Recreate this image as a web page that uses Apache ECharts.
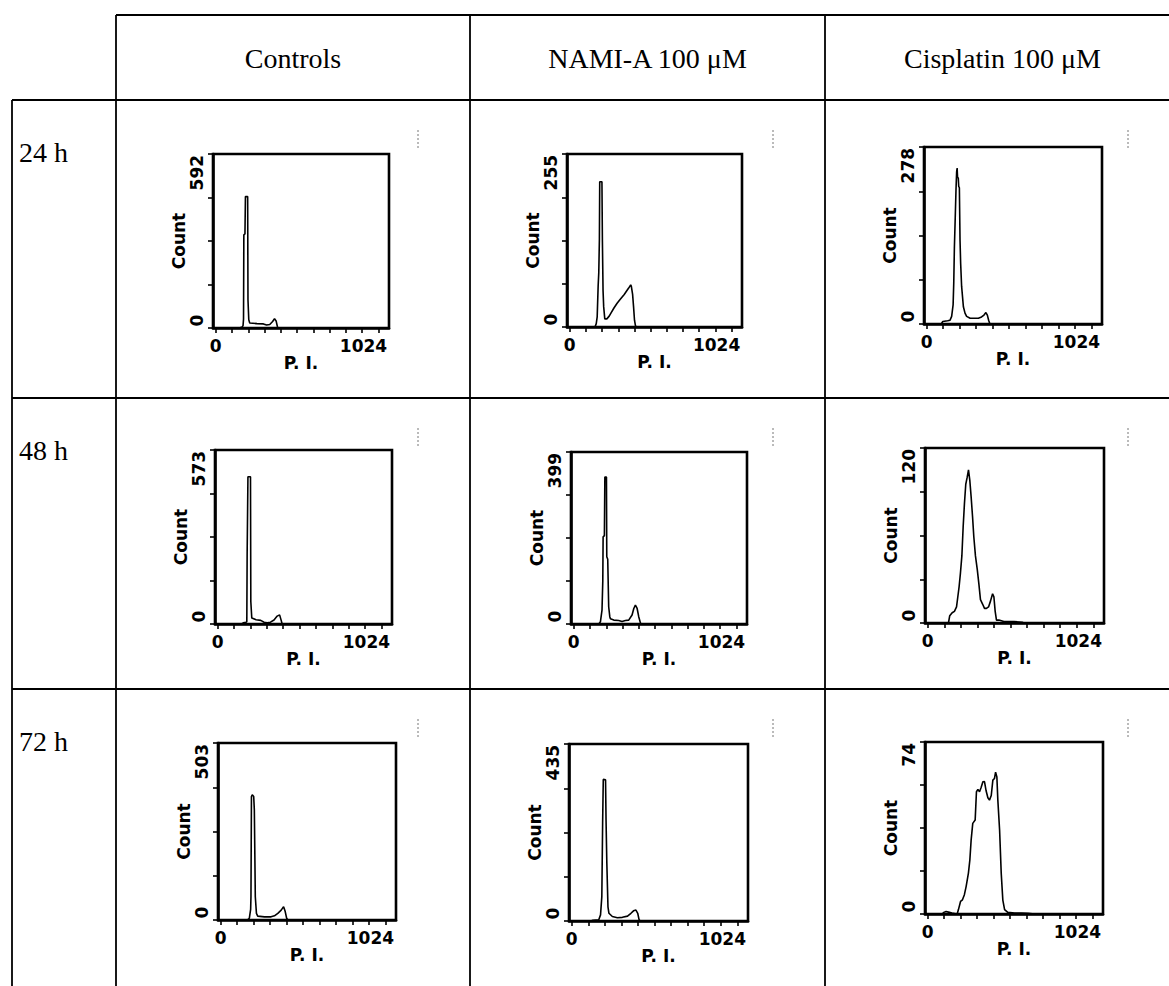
<!DOCTYPE html>
<html>
<head>
<meta charset="utf-8">
<script src="https://cdn.jsdelivr.net/npm/echarts@6/dist/echarts.min.js"></script>
<style>
  html, body { margin: 0; padding: 0; background: #fff; }
  #main { width: 1169px; height: 986px; }
</style>
</head>
<body>
<div id="main"></div>
<script>
// table headings
var columns = ['Controls', 'NAMI-A 100 μM', 'Cisplatin 100 μM'];
var rows = ['24 h', '48 h', '72 h'];

// top label of each Count axis (row by row)
var yMax = [592, 255, 278, 573, 399, 120, 503, 435, 74];

// P.I. channel ticks and labels
var xTicks = [0, 102.4, 204.8, 307.2, 409.6, 512, 614.4, 716.8, 819.2, 921.6, 1024];
var xLabels = [0, 1024];

// histograms: [P.I. channel, count]
var ctrl24 = [[0,0],[150,0],[166,3],[172,8],[175,30],[177,317],[184,320],[187,447],[201,447],[203,96],[208,28],[214,17],[260,15],[300,14],[320,10],[340,12],[358,22],[370,32],[380,24],[388,5],[392,0],[1024,0]];
var nami24 = [[0,0],[160,0],[168,5],[174,15],[180,60],[184,80],[188,130],[190,214],[204,214],[207,126],[211,54],[215,30],[222,12],[235,12],[250,16],[260,20],[280,28],[300,35],[320,41],[345,48],[360,53],[372,57],[386,62],[390,60],[398,48],[404,30],[410,10],[416,2],[422,0],[1024,0]];
var cis24 = [[0,0],[90,0],[100,4],[130,5],[145,6],[155,12],[164,30],[168,64],[172,120],[178,174],[182,211],[186,239],[189,245],[192,229],[196,230],[199,216],[203,214],[207,132],[211,95],[217,59],[228,27],[238,17],[248,12],[270,9],[300,9],[321,9],[341,11],[356,14],[368,18],[377,14],[385,6],[393,0],[1024,0]];

var ctrl48 = [[0,0],[150,0],[160,4],[178,6],[182,8],[184,227],[188,227],[189,485],[205,485],[207,74],[213,20],[240,14],[269,12],[290,6],[310,4],[330,6],[352,13],[372,26],[387,30],[397,12],[403,0],[1024,0]];
var nami48 = [[0,0],[158,0],[168,5],[178,32],[183,100],[185,202],[193,205],[196,341],[206,341],[208,156],[214,150],[220,40],[227,17],[231,12],[252,9],[283,8],[304,6],[325,8],[346,9],[367,21],[378,36],[388,44],[399,36],[409,17],[420,2],[426,0],[1024,0]];
var cis48 = [[0,0],[128,0],[136,5],[151,7],[165,8],[178,11],[186,18],[194,25],[202,34],[211,46],[219,66],[227,82],[235,95],[244,100],[252,105],[260,98],[268,87],[277,73],[285,59],[295,46],[306,37],[316,27],[326,16],[339,13],[351,10],[363,10],[376,11],[388,15],[401,20],[409,18],[417,8],[425,2],[440,2],[471,1],[533,1],[584,0.5],[595,0],[1024,0]];

var ctrl72 = [[0,0],[165,0],[178,5],[186,30],[188,66],[191,351],[196,356],[205,351],[209,313],[213,150],[215,66],[222,19],[230,11],[272,9],[313,9],[334,12],[355,19],[376,28],[391,38],[401,24],[410,5],[418,0],[1024,0]];
var nami72 = [[0,0],[120,0],[130,2],[167,3],[178,15],[186,60],[191,240],[195,348],[209,347],[212,250],[217,142],[224,35],[230,19],[251,11],[282,8],[313,9],[345,12],[366,19],[382,25],[397,27],[408,19],[416,4],[422,0],[1024,0]];
var cis72 = [[0,0],[90,0],[100,0.7],[114,1.1],[135,0.7],[150,0.4],[183,0],[191,1.9],[204,5.4],[216,6.1],[228,8.3],[239,11.9],[253,17.6],[262,23.3],[270,31.9],[280,39],[295,40.4],[303,52.6],[312,53.6],[322,52.6],[332,54.4],[343,56.9],[353,57],[363,53],[374,50],[384,49],[395,51],[405,57.6],[415,58.3],[422,61],[430,59],[436,49],[447,36],[457,17.6],[467,6],[478,1.9],[498,0.7],[540,0.4],[582,0.4],[623,0.3],[665,0],[1024,0]];

var histograms = [ctrl24, nami24, cis24, ctrl48, nami48, cis48, ctrl72, nami72, cis72];

// layout of the plot boxes: left, top, width, height
var boxes = [
  [213, 154, 176, 174], [567, 154, 175, 173], [924, 147, 178, 177],
  [215, 450, 177, 174], [571, 452, 176, 172], [925, 448, 179, 175],
  [218, 743, 178, 177], [569, 744, 179, 177], [925, 742, 178, 172]
];
var rowTops = [100, 398, 689];
var colCenters = [293, 647.5, 1002.5];
var colRights = [470, 825, 1180];

var chart = echarts.init(document.getElementById('main'), null, {renderer: 'svg'});

var plotFont = '"DejaVu Sans", sans-serif';
var serif = '"Liberation Serif", "Times New Roman", serif';
var plotText = {color: '#000', fontFamily: plotFont, fontWeight: 'bold', fontSize: 17};
var digitW = 11.8;

var grids = [], xAxes = [], yAxes = [], series = [];

boxes.forEach(function (b, i) {
    var top = yMax[i];
    var topW = String(top).length * digitW;

    grids.push({
        left: b[0], top: b[1], width: b[2], height: b[3],
        show: true, borderColor: '#000', borderWidth: 2.6
    });

    xAxes.push({
        gridIndex: i, type: 'value', min: -17, max: 1090,
        axisLine: {show: true, onZero: false, lineStyle: {color: '#000', width: 2.6}},
        axisTick: {show: true, length: 5, customValues: xTicks, lineStyle: {color: '#000', width: 1.6}},
        axisLabel: {
            customValues: xLabels, margin: 9,
            formatter: function (v) {
                return v === 0 ? '{lo|0}' : '{hi|' + v + '}';
            },
            rich: {
                lo: plotText,
                hi: Object.assign({padding: [0, 30, 0, 0]}, plotText)
            }
        },
        splitLine: {show: false},
        name: 'P. I.', nameLocation: 'middle', nameGap: 25,
        nameTextStyle: plotText
    });

    yAxes.push({
        gridIndex: i, type: 'value', min: 0, max: top,
        axisLine: {show: true, onZero: false, lineStyle: {color: '#000', width: 2.6}},
        axisTick: {show: true, length: 5, customValues: [0, top / 4, top / 2, top * 3 / 4, top], lineStyle: {color: '#000', width: 1.6}},
        axisLabel: {
            customValues: [0, top], rotate: 90, margin: 8,
            formatter: function (v) {
                return v === 0 ? '{lo|0}' : '{hi|' + v + '}';
            },
            rich: {
                lo: Object.assign({padding: [0, 0, 0, 15]}, plotText),
                hi: Object.assign({padding: [0, topW + 2, 0, 0]}, plotText)
            }
        },
        splitLine: {show: false},
        name: 'Count', nameLocation: 'middle', nameRotate: 90, nameGap: 25,
        nameTextStyle: plotText
    });

    series.push({
        type: 'line', xAxisIndex: i, yAxisIndex: i,
        data: histograms[i],
        symbol: 'none',
        lineStyle: {color: '#000', width: 1.6}
    });
});

// table rules
var rules = [
    [116, 15, 1169, 15],
    [12, 100, 1169, 100],
    [12, 398, 1169, 398],
    [12, 689, 1169, 689],
    [12, 100, 12, 986],
    [116, 15, 116, 986],
    [470, 15, 470, 986],
    [825, 15, 825, 986]
];

var graphics = [];
rules.forEach(function (r) {
    graphics.push({
        type: 'line', silent: true,
        shape: {x1: r[0], y1: r[1], x2: r[2], y2: r[3]},
        style: {stroke: '#000', lineWidth: 1.8}
    });
});

columns.forEach(function (c, j) {
    graphics.push({
        type: 'text', silent: true,
        style: {text: c, x: colCenters[j], y: 58, align: 'center', verticalAlign: 'middle',
                font: '28px ' + serif, fill: '#000'}
    });
});

rows.forEach(function (r, k) {
    graphics.push({
        type: 'text', silent: true,
        style: {text: r, x: 19, y: rowTops[k] + 52, align: 'left', verticalAlign: 'middle',
                font: '28px ' + serif, fill: '#000'}
    });
    // small scan marks at the top right of each cell
    colRights.forEach(function (cr) {
        graphics.push({
            type: 'line', silent: true,
            shape: {x1: cr - 52, y1: rowTops[k] + 30, x2: cr - 52, y2: rowTops[k] + 48},
            style: {stroke: '#777', lineWidth: 1, lineDash: [2, 2]}
        });
    });
});

chart.setOption({
    animation: false,
    backgroundColor: '#fff',
    grid: grids,
    xAxis: xAxes,
    yAxis: yAxes,
    series: series,
    graphic: graphics
});
</script>
</body>
</html>
